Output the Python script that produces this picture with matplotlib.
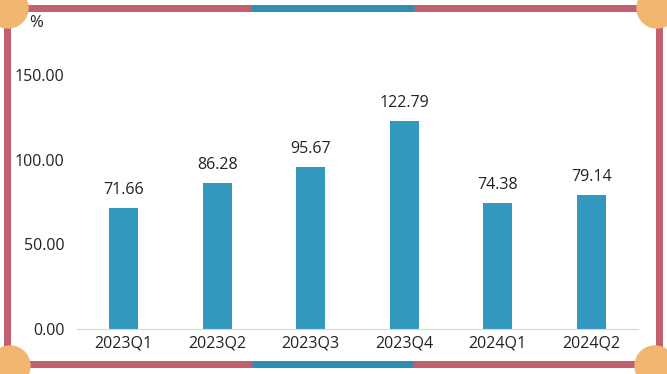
import matplotlib
matplotlib.use("Agg")
import matplotlib.pyplot as plt
from matplotlib.lines import Line2D
from matplotlib.patches import Circle

quarters = ["2023Q1", "2023Q2", "2023Q3", "2023Q4", "2024Q1", "2024Q2"]
values = [71.66, 86.28, 95.67, 122.79, 74.38, 79.14]
yticks = [0, 50, 100, 150]

plt.rcParams['font.family'] = ['Open Sans', 'DejaVu Sans']

W, H = 667, 374
fig = plt.figure(figsize=(W / 100, H / 100), dpi=100)
fig.patch.set_facecolor("white")

ax = fig.add_axes([77 / W, 45 / H, (638 - 77) / W, 0.7923])
x = range(len(quarters))
bars = ax.bar(x, values, width=0.31, color="#3398bd")
for i, v in enumerate(values):
    ax.annotate(f"{v:.2f}", (i, v), xytext=(0, 7), textcoords="offset points",
                ha="center", va="bottom", fontsize=11.5, color="#222222")

ax.set_xlim(-0.5, len(quarters) - 0.5)
ax.set_ylim(0, 175)
ax.set_yticks(yticks)
ax.set_yticklabels([f"{t:.2f}" for t in yticks], fontsize=11.5, color="#222222")
ax.set_xticks(list(x))
ax.set_xticklabels(quarters, fontsize=11.5, color="#222222")
ax.tick_params(axis="both", length=0)
ax.tick_params(axis="x", pad=5)
ax.tick_params(axis="y", pad=9)
for s in ["top", "right", "left"]:
    ax.spines[s].set_visible(False)
ax.spines["bottom"].set_color("#d9d9d9")

fig.text(29 / W, 1 - 23 / H, "%", fontsize=12, va="center", ha="left", color="#222222")

# frame around the chart
pink = "#c2606f"
blue = "#2f8fb3"
lw = 7 * 72 / 100


def seg(x0, y0, x1, y1, c, w=lw):
    fig.add_artist(Line2D([x0 / W, x1 / W], [1 - y0 / H, 1 - y1 / H],
                          color=c, linewidth=w, solid_capstyle="butt",
                          transform=fig.transFigure))


seg(0, 7.5, W, 7.5, pink)
seg(251, 7.5, 414, 7.5, blue)
seg(0, 363.5, W, 363.5, pink)
seg(252, 363.5, 413, 363.5, blue)
seg(6.5, 0, 6.5, H, pink)
seg(659, 0, 659, H, pink)

orange = "#f1b670"
for cx, cy in [(8, 8), (657, 8), (10, 366), (655, 366)]:
    fig.add_artist(Circle((cx / 100, (H - cy) / 100), 0.20, color=orange,
                          transform=fig.dpi_scale_trans, zorder=5))

fig.savefig("out.png", dpi=100, facecolor="white")
